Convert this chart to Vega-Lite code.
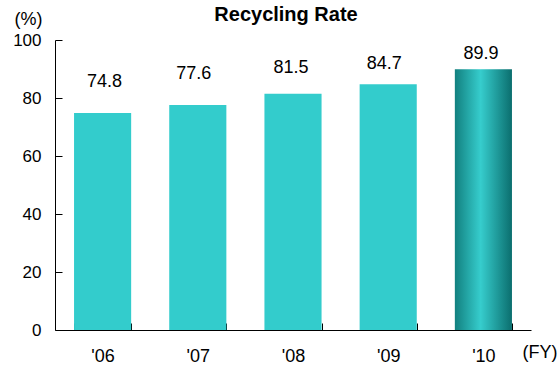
{
  "$schema": "https://vega.github.io/schema/vega-lite/v6.json",
  "width": 476,
  "height": 290,
  "autosize": {"type": "none"},
  "padding": {"left": 55, "top": 40, "right": 27, "bottom": 37},
  "background": "white",
  "config": {
    "font": "Liberation Sans",
    "view": {"stroke": null}
  },
  "title": {
    "text": "Recycling Rate",
    "font": "Liberation Sans",
    "fontSize": 20,
    "fontWeight": "bold",
    "color": "#000000",
    "anchor": "middle",
    "baseline": "alphabetic",
    "dx": -7,
    "offset": -31
  },
  "data": {
    "values": [
      {"year": "'06", "rate": 74.8},
      {"year": "'07", "rate": 77.6},
      {"year": "'08", "rate": 81.5},
      {"year": "'09", "rate": 84.7},
      {"year": "'10", "rate": 89.9}
    ]
  },
  "encoding": {
    "x": {
      "field": "year",
      "type": "nominal",
      "sort": null,
      "scale": {"paddingInner": 0.4, "paddingOuter": 0.2},
      "axis": {
        "labelAngle": 0,
        "tickBand": "extent",
        "tickSize": -7,
        "tickColor": "#000000",
        "domainColor": "#000000",
        "labelFontSize": 18,
        "labelColor": "#000000",
        "labelPadding": 24,
        "grid": false,
        "title": "(FY)",
        "titleFontSize": 18,
        "titleFontWeight": "normal",
        "titleColor": "#000000",
        "titleAngle": 0,
        "titleAlign": "left",
        "titleBaseline": "alphabetic",
        "titleX": 467,
        "titleY": 27
      }
    },
    "y": {
      "field": "rate",
      "type": "quantitative",
      "scale": {"domain": [0, 100], "nice": false},
      "axis": {
        "values": [0, 20, 40, 60, 80, 100],
        "tickSize": -7,
        "tickColor": "#000000",
        "domainColor": "#000000",
        "labelFontSize": 17,
        "labelColor": "#000000",
        "labelPadding": 21,
        "grid": false,
        "title": "(%)",
        "titleFontSize": 18,
        "titleFontWeight": "normal",
        "titleColor": "#000000",
        "titleAngle": 0,
        "titleAlign": "center",
        "titleBaseline": "alphabetic",
        "titleX": -27,
        "titleY": -16
      }
    }
  },
  "layer": [
    {
      "transform": [{"filter": "datum.year !== \"'10\""}],
      "mark": {"type": "bar", "color": "#33cccc"}
    },
    {
      "transform": [{"filter": {"field": "year", "equal": "'10"}}],
      "mark": {
        "type": "bar",
        "color": {
          "gradient": "linear",
          "x1": 0, "x2": 1, "y1": 0, "y2": 0,
          "stops": [
            {"offset": 0, "color": "#12807f"},
            {"offset": 0.45, "color": "#36cdcd"},
            {"offset": 1, "color": "#0b6e6e"}
          ]
        }
      }
    },
    {
      "transform": [{"filter": {"field": "year", "equal": "'06"}}],
      "mark": {"type": "text", "baseline": "alphabetic", "fontSize": 18, "color": "#000000", "dy": -26, "dx": 2},
      "encoding": {"text": {"field": "rate", "type": "quantitative", "format": ".1f"}}
    },
    {
      "transform": [{"filter": {"field": "year", "equal": "'07"}}],
      "mark": {"type": "text", "baseline": "alphabetic", "fontSize": 18, "color": "#000000", "dy": -26, "dx": -4},
      "encoding": {"text": {"field": "rate", "type": "quantitative", "format": ".1f"}}
    },
    {
      "transform": [{"filter": {"field": "year", "equal": "'08"}}],
      "mark": {"type": "text", "baseline": "alphabetic", "fontSize": 18, "color": "#000000", "dy": -21, "dx": -2},
      "encoding": {"text": {"field": "rate", "type": "quantitative", "format": ".1f"}}
    },
    {
      "transform": [{"filter": {"field": "year", "equal": "'09"}}],
      "mark": {"type": "text", "baseline": "alphabetic", "fontSize": 18, "color": "#000000", "dy": -15, "dx": -4},
      "encoding": {"text": {"field": "rate", "type": "quantitative", "format": ".1f"}}
    },
    {
      "transform": [{"filter": {"field": "year", "equal": "'10"}}],
      "mark": {"type": "text", "baseline": "alphabetic", "fontSize": 18, "color": "#000000", "dy": -10, "dx": -2.5},
      "encoding": {"text": {"field": "rate", "type": "quantitative", "format": ".1f"}}
    }
  ]
}
